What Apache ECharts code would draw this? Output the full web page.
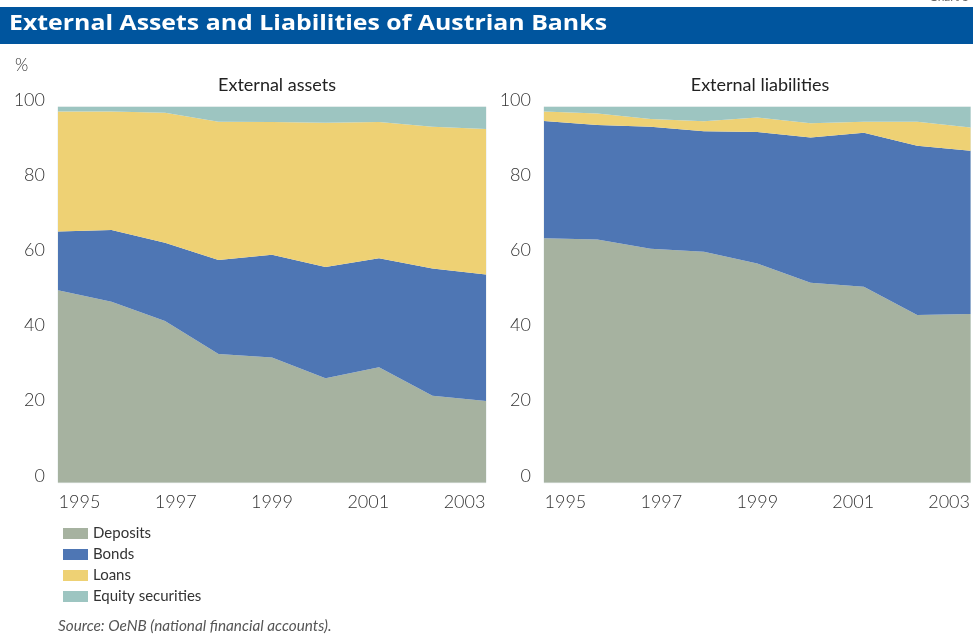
<!DOCTYPE html>
<html>
<head>
<meta charset="utf-8">
<script src="https://cdn.jsdelivr.net/npm/echarts@6/dist/echarts.min.js"></script>
<style>
  html, body { margin: 0; padding: 0; background: #fff; }
  #chart { width: 973px; height: 635px; }
</style>
</head>
<body>
<div id="chart"></div>
<script>
// Years for each data point (end of year)
const years = ['1995', '1996', '1997', '1998', '1999', '2000', '2001', '2002', '2003'];
// Labels shown under each panel
const tickLabels = ['1995', '1997', '1999', '2001', '2003'];
const yTicks = [0, 20, 40, 60, 80, 100];

// External assets, shares in %
const assetsDeposits = [51.2, 48.1, 43.0, 34.2, 33.3, 27.8, 30.7, 23.1, 21.7];
const assetsBonds    = [15.6, 19.1, 20.8, 25.0, 27.3, 29.6, 29.0, 33.9, 33.7];
const assetsLoans    = [31.9, 31.5, 34.6, 36.8, 35.3, 38.3, 36.2, 37.7, 38.7];
const assetsEquity   = [1.3, 1.3, 1.6, 4.0, 4.1, 4.3, 4.1, 5.3, 5.9];

// External liabilities, shares in %
const liabDeposits = [65.0, 64.7, 62.2, 61.4, 58.3, 53.2, 52.1, 44.6, 44.9];
const liabBonds    = [31.2, 30.4, 32.5, 32.1, 35.0, 38.6, 41.0, 45.0, 43.4];
const liabLoans    = [2.5, 3.1, 2.0, 2.6, 3.8, 3.8, 2.9, 6.4, 6.2];
const liabEquity   = [1.3, 1.8, 3.3, 3.9, 2.9, 4.4, 4.0, 4.0, 5.5];

const seriesNames = ['Deposits', 'Bonds', 'Loans', 'Equity securities'];
const colors = ['#a6b2a0', '#4e76b4', '#eed174', '#9dc5c1'];

const FONT = 'Lato, "Open Sans", sans-serif';
const HEADER = 'External Assets and Liabilities of Austrian Banks';
const HEADER_FONT = 'bold 22px "Open Sans", sans-serif';

// Stretch the header a little so it spans the same width as the house typeface
const measureCtx = document.createElement('canvas').getContext('2d');
measureCtx.font = HEADER_FONT;
const headerScale = 598 / measureCtx.measureText(HEADER).width;

const chart = echarts.init(document.getElementById('chart'), null, { renderer: 'canvas' });

const grids = [
  { left: 58, right: 487, top: 106.7, bottom: 152.3 },
  { left: 544, right: 0, top: 106.7, bottom: 152.3 }
];

function dataAxis(gridIndex) {
  return {
    type: 'category', gridIndex, data: years, boundaryGap: false, show: false
  };
}
function labelAxis(gridIndex) {
  return {
    type: 'value', gridIndex, min: -0.223, max: 4.223, position: 'bottom',
    axisLine: { show: false }, axisTick: { show: false }, splitLine: { show: false },
    axisLabel: {
      customValues: tickLabels.map((_, i) => i),
      formatter: v => tickLabels[Math.round(v)],
      fontFamily: FONT, fontSize: 18, color: '#333', margin: 10, fontWeight: 300
    }
  };
}
function yAxis(gridIndex) {
  return {
    type: 'value', gridIndex, min: yTicks[0], max: yTicks[yTicks.length - 1], interval: 20,
    axisLine: { show: false }, axisTick: { show: false }, splitLine: { show: false },
    axisLabel: {
      fontFamily: FONT, fontSize: 18, color: '#333', margin: 13, fontWeight: 300,
      verticalAlign: 'bottom', lineHeight: 14
    }
  };
}

function areaSeries(name, data, idx, stack, axisIndex) {
  return {
    name, type: 'line', stack, data,
    xAxisIndex: axisIndex, yAxisIndex: axisIndex === 0 ? 0 : 1,
    showSymbol: false, symbol: 'none',
    lineStyle: { width: 0 },
    areaStyle: { color: colors[idx], opacity: 1 },
    itemStyle: { color: colors[idx] },
    silent: true, animation: false
  };
}

const assetsData = [assetsDeposits, assetsBonds, assetsLoans, assetsEquity];
const liabData = [liabDeposits, liabBonds, liabLoans, liabEquity];

const series = [];
seriesNames.forEach((n, i) => series.push(areaSeries(n, assetsData[i], i, 'assets', 0)));
seriesNames.forEach((n, i) => series.push(areaSeries(n, liabData[i], i, 'liab', 2)));

chart.setOption({
  animation: false,
  backgroundColor: '#fff',
  grid: grids.map(g => Object.assign({ show: true, borderColor: '#e3eaea', borderWidth: 1, backgroundColor: 'transparent' }, g)),
  xAxis: [dataAxis(0), labelAxis(0), dataAxis(1), labelAxis(1)],
  yAxis: [yAxis(0), yAxis(1)],
  title: [
    { text: 'External assets', left: 272, top: 71, textAlign: 'center',
      textStyle: { fontFamily: FONT, fontSize: 18, fontWeight: 'normal', color: '#222' } },
    { text: 'External liabilities', left: 755, top: 71, textAlign: 'center',
      textStyle: { fontFamily: FONT, fontSize: 18, fontWeight: 'normal', color: '#222' } }
  ],
  legend: {
    orient: 'vertical', left: 58, top: 521,
    itemWidth: 25, itemHeight: 11, itemGap: 6,
    data: seriesNames,
    icon: 'rect',
    textStyle: { fontFamily: FONT, fontSize: 15, color: '#333', padding: [0, 0, 0, 0] },
    selectedMode: false
  },
  graphic: [
    { type: 'rect', left: 0, top: 7, shape: { width: 973, height: 37 }, style: { fill: '#00559e' } },
    { type: 'text', x: 9, y: 13, scaleX: headerScale,
      style: { text: HEADER, fill: '#fff', font: HEADER_FONT } },
    { type: 'text', right: 4, top: -9,
      style: { text: 'Chart 3', fill: '#666', font: '12px ' + FONT } },
    { type: 'text', left: 15, top: 57,
      style: { text: '%', fill: '#333', font: '300 17px ' + FONT } },
    { type: 'text', left: 58, top: 619,
      style: { text: 'Source: OeNB (national financial accounts).', fill: '#555',
               font: 'italic 15.3px ' + FONT } }
  ],
  series
});
</script>
</body>
</html>
